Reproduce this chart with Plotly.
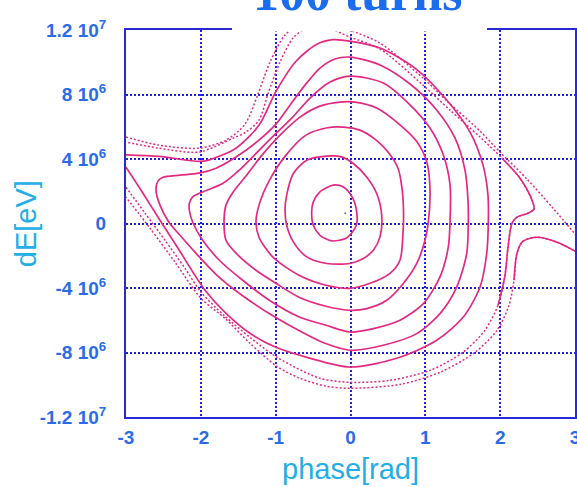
import plotly.graph_objects as go

# Longitudinal phase-space trajectories after 100 turns.
# Phase in rad, energy offset in MeV (scaled to eV when plotted).

c1_phase = [-0.519, -0.497, -0.408, -0.230, -0.096, -0.007, 0.060, 0.087, 0.083, 0.033, -0.060, -0.247, -0.408, -0.497, -0.519]
c1_de = [0.70, 1.34, 1.96, 2.38, 2.27, 1.86, 1.24, 0.52, -0.04, -0.48, -0.91, -1.08, -0.73, -0.11, 0.70]

c2_phase = [-0.875, -0.853, -0.764, -0.585, -0.318, -0.118, 0.037, 0.216, 0.350, 0.417, 0.394, 0.305, 0.171, -0.007, -0.318, -0.585, -0.764, -0.853, -0.875]
c2_de = [0.83, 1.76, 3.10, 3.93, 4.18, 4.13, 3.72, 2.89, 1.86, 0.52, -0.83, -1.66, -2.17, -2.48, -2.48, -2.07, -1.14, -0.11, 0.83]

c3_phase = [-1.263, -1.223, -1.089, -0.862, -0.595, -0.327, -0.100, 0.127, 0.327, 0.501, 0.635, 0.688, 0.708, 0.702, 0.661, 0.528, 0.261, -0.007, -0.327, -0.688, -1.036, -1.223, -1.263]
c3_de = [0.08, 1.14, 2.63, 4.24, 5.48, 5.92, 5.98, 5.79, 5.23, 4.43, 3.43, 2.19, 0.83, -0.54, -2.28, -3.09, -3.71, -4.02, -3.83, -3.21, -2.09, -0.85, 0.08]

c4_phase = [-1.690, -1.664, -1.570, -1.397, -1.183, -0.942, -0.675, -0.408, -0.140, 0.060, 0.350, 0.661, 0.885, 1.018, 1.062, 1.040, 0.996, 0.885, 0.706, 0.484, 0.216, -0.007, -0.327, -0.688, -0.996, -1.263, -1.530, -1.664, -1.690]
c4_de = [0.08, 1.14, 1.94, 2.94, 4.24, 5.48, 6.60, 7.28, 7.53, 7.53, 7.16, 6.12, 5.09, 3.85, 2.19, 0.08, -1.04, -2.48, -3.72, -4.76, -5.28, -5.38, -5.13, -4.57, -3.71, -2.90, -1.84, -1.04, 0.08]

c5_phase = [-2.109, -2.154, -2.154, -2.109, -1.975, -1.708, -1.486, -1.219, -0.996, -0.772, -0.541, -0.274, -0.007, 0.438, 0.795, 1.062, 1.240, 1.330, 1.330, 1.307, 1.196, 0.973, 0.661, 0.305, -0.007, -0.327, -0.684, -1.085, -1.441, -1.753, -1.975, -2.109]
c5_de = [0.08, 0.83, 1.24, 1.65, 1.96, 2.48, 3.31, 4.55, 5.59, 6.60, 7.78, 8.77, 9.14, 8.71, 7.36, 5.92, 4.26, 2.40, 0.08, -1.45, -3.31, -4.97, -6.00, -6.52, -6.73, -6.31, -5.80, -4.76, -3.52, -2.28, -1.04, 0.08]

c6_phase = [-2.426, -2.546, -2.599, -2.573, -2.506, -2.278, -2.025, -1.797, -1.530, -1.223, -0.996, -0.809, -0.608, -0.408, -0.207, -0.007, 0.394, 0.795, 1.129, 1.397, 1.530, 1.570, 1.574, 1.553, 1.419, 1.196, 0.885, 0.438, -0.007, -0.341, -0.595, -1.049, -1.450, -1.784, -2.078, -2.278, -2.426]
c6_de = [0.08, 1.14, 2.07, 2.63, 2.87, 3.00, 3.12, 3.43, 4.12, 5.17, 6.16, 7.34, 8.58, 9.64, 10.20, 10.32, 9.83, 8.65, 7.16, 5.29, 3.31, 1.45, 0.08, -1.86, -3.94, -5.59, -6.83, -7.55, -7.86, -7.43, -6.87, -5.69, -4.45, -3.21, -1.78, -0.73, 0.08]

# open trajectory: leaves through the left edge at both ends
c7_phase = [-3.000, -2.555, -2.021, -1.887, -1.530, -1.219, -0.996, -0.728, -0.461, -0.238, 0.007, 0.394, 0.862, 1.263, 1.597, 1.771, 1.837, 1.842, 1.820, 1.731, 1.507, 1.152, 0.617, -0.007, -0.581, -0.996, -1.343, -1.677, -1.944, -2.105, -2.305, -2.546, -2.773, -3.000]
c7_de = [4.26, 4.16, 3.85, 3.95, 4.67, 6.12, 8.19, 10.06, 11.09, 11.40, 11.30, 10.88, 9.64, 7.78, 5.67, 3.62, 1.76, 0.08, -1.86, -3.94, -5.80, -7.24, -8.36, -8.90, -8.30, -7.68, -6.81, -5.51, -4.14, -3.02, -1.53, 0.20, 1.88, 3.49]

c8_phase = [-3.000, -2.746, -2.479, -2.212, -1.998, -1.677, -1.343, -0.982, -0.408, -0.007, 0.528, 1.062, 1.503, 1.797, 1.971, 2.065, 2.105, 2.158, 2.225, 2.372, 2.452, 2.426, 2.265, 2.025, 1.731, 1.330, 0.969, 0.394, -0.007, -0.341, -0.608, -0.768, -0.942, -1.103, -1.223, -1.397, -1.570, -2.025, -2.559, -3.000]
c8_de = [2.25, 0.64, -1.04, -2.77, -4.26, -5.75, -7.06, -8.30, -9.60, -9.85, -9.73, -9.11, -7.99, -6.62, -5.07, -3.21, -1.47, 0.02, 0.39, 0.64, 0.89, 1.45, 2.81, 4.05, 5.36, 7.03, 8.58, 10.82, 11.56, 12.18, 12.06, 11.50, 10.01, 8.03, 6.41, 5.67, 5.29, 4.43, 4.67, 5.05]
# the slow turn near the unstable point is densely populated and reads as a solid line
c8_solid = (14, 24)

# outermost trajectory, split where it wraps across the phase boundary
c9a_phase = [-3.000, -2.559, -2.025, -1.664, -1.410, -1.236, -1.076, -0.875, -0.675, -0.408, -0.140, -0.007, 0.394, 0.969, 1.290, 1.731, 1.998, 2.359, 2.706, 3.027]
c9a_de = [5.36, 4.86, 4.67, 5.17, 6.16, 8.03, 10.01, 11.69, 12.37, 12.74, 12.31, 12.00, 11.19, 9.02, 7.59, 5.73, 4.43, 2.75, 0.95, -0.79]
c9b_phase = [3.027, 2.760, 2.492, 2.305, 2.225, 2.185, 2.118, 1.958, 1.664, 1.196, 0.661, -0.007, -0.314, -0.675, -0.982, -1.343, -1.677, -1.998, -2.345, -2.679, -3.000]
c9b_de = [-1.78, -1.16, -0.85, -1.10, -1.84, -3.52, -5.07, -6.62, -7.99, -9.23, -9.98, -10.22, -10.10, -9.60, -8.86, -7.43, -5.88, -4.64, -2.40, -0.29, 1.63]
c9b_solid = (0, 6)

centre_phase = [-0.07]
centre_de = [0.64]

x_ticks = [-3, -2, -1, 0, 1, 2, 3]
x_labels = ["-3", "-2", "-1", "0", "1", "2", "3"]
y_ticks_mev = [12, 8, 4, 0, -4, -8, -12]
y_labels = ["1.2 10<sup>7</sup>", "8 10<sup>6</sup>", "4 10<sup>6</sup>", "0",
            "-4 10<sup>6</sup>", "-8 10<sup>6</sup>", "-1.2 10<sup>7</sup>"]

MEV = 1e6
PINK = "#e22a82"
FRAME = "#2a2ad2"
GRID = "#2020e0"
TICK_BLUE = "#2c6be8"
TITLE_CYAN = "#22aee6"

fig = go.Figure()


def add_line(ph, de, dash=None, width=1.7):
    fig.add_trace(go.Scatter(
        x=ph, y=[v * MEV for v in de], mode="lines",
        line=dict(color=PINK, width=width, dash=dash, shape="spline", smoothing=0.8),
        hoverinfo="skip", showlegend=False))


for ph, de in [(c1_phase, c1_de), (c2_phase, c2_de), (c3_phase, c3_de), (c4_phase, c4_de),
               (c5_phase, c5_de), (c6_phase, c6_de), (c7_phase, c7_de)]:
    add_line(ph, de)

DOT = "2px,2px"
add_line(c8_phase, c8_de, dash=DOT, width=1.5)
add_line(c8_phase[c8_solid[0]:c8_solid[1]], c8_de[c8_solid[0]:c8_solid[1]], width=1.6)
add_line(c9a_phase, c9a_de, dash=DOT, width=1.5)
add_line(c9b_phase, c9b_de, dash=DOT, width=1.5)
add_line(c9b_phase[c9b_solid[0]:c9b_solid[1]], c9b_de[c9b_solid[0]:c9b_solid[1]], width=1.6)

fig.add_trace(go.Scatter(
    x=centre_phase, y=[v * MEV for v in centre_de], mode="markers",
    marker=dict(color="#777777", size=2), hoverinfo="skip", showlegend=False))

axis_common = dict(
    showline=True, linecolor=FRAME, linewidth=2, mirror=True,
    showgrid=True, gridcolor=GRID, gridwidth=1.8, griddash="2px,2px",
    zeroline=False, ticks="", ticklabeloverflow="allow", automargin=False,
    tickfont=dict(family="Liberation Sans, Arial, sans-serif", size=19, color=TICK_BLUE),
)

fig.update_xaxes(range=[-3, 3], tickvals=x_ticks,
                 ticktext=[f"<b>{t}</b>" for t in x_labels],
                 ticklabelstandoff=2, **axis_common)
fig.update_yaxes(range=[-12 * MEV, 12 * MEV], tickvals=[v * MEV for v in y_ticks_mev],
                 ticktext=[f"<b>{t}</b>" for t in y_labels],
                 ticklabelstandoff=14, **axis_common)

fig.update_layout(
    width=577, height=487,
    margin=dict(l=126, r=2, t=30, b=70),
    paper_bgcolor="white", plot_bgcolor="white",
    shapes=[dict(type="rect", xref="paper", yref="paper",
                 x0=0.236, x1=0.804, y0=0.996, y1=1.08,
                 fillcolor="white", line=dict(width=0), layer="above")],
    annotations=[
        dict(text="phase[rad]", xref="paper", yref="paper", x=0.501, y=-0.134,
             xanchor="center", yanchor="middle", showarrow=False,
             font=dict(family="Liberation Sans, Arial, sans-serif", size=29, color=TITLE_CYAN)),
        dict(text="dE[eV]", xref="paper", yref="paper", x=-0.222, y=0.499,
             xanchor="center", yanchor="middle", textangle=-90, showarrow=False,
             font=dict(family="Liberation Sans, Arial, sans-serif", size=29, color=TITLE_CYAN)),
        dict(text="<b>100 turns</b>", xref="paper", yref="paper", x=0.516, y=1.017,
             xanchor="center", yanchor="bottom", showarrow=False,
             font=dict(family="Liberation Serif, Times New Roman, serif", size=52, color="#1c6cf0")),
    ],
)

fig.write_html("out.html", config={"displayModeBar": False})
